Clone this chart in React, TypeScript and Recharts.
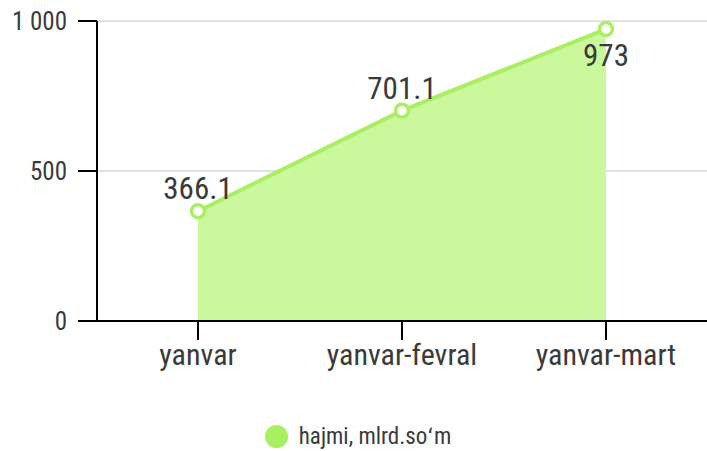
import { AreaChart, Area, XAxis, YAxis, CartesianGrid, Legend, LabelList } from 'recharts';

const categories = ['yanvar', 'yanvar-fevral', 'yanvar-mart'];
const values = [366.1, 701.1, 973];
const yTicks = [0, 500, 1000];
const seriesName = 'hajmi, mlrd.soʻm';

const FONT = '"Roboto Condensed", "Liberation Sans Narrow", "DejaVu Sans Condensed", sans-serif';
const LINE = '#a8f062';
const FILL = '#cbf89d';
const TEXT = '#3a3a3a';

const data = categories.map((name, i) => ({ name, value: values[i] }));

const fmt = (v: number) => String(v).replace(/\B(?=(\d{3})+(?!\d))/g, ' ');

function ValueLabel(props: any) {
    const { x, y, value, index } = props;
    const below = index === values.length - 1;
    return (
        <text
            x={x}
            y={below ? y + 37 : y - 12}
            textAnchor="middle"
            fill={TEXT}
            fontSize={31}
            fontFamily={FONT}
        >
            {value}
        </text>
    );
}

function LegendContent() {
    return (
        <div style={{ height: 40, display: 'flex', justifyContent: 'center', alignItems: 'flex-end', fontFamily: FONT }}>
            <div style={{ display: 'flex', alignItems: 'center', marginLeft: 9, marginBottom: 1 }}>
                <span style={{ width: 23, height: 23, borderRadius: 12, background: LINE, display: 'inline-block', marginRight: 11 }} />
                <span style={{ fontSize: 23, color: TEXT }}>{seriesName}</span>
            </div>
        </div>
    );
}

export default function App() {
    return (
        <div style={{ position: 'absolute', left: 0, top: 0, background: '#fff' }}>
            <AreaChart width={707} height={451} data={data} margin={{ top: 21, right: 0, left: 0, bottom: 0 }}>
                <CartesianGrid vertical={false} stroke="#e2e2e2" strokeWidth={2} />
                <XAxis
                    dataKey="name"
                    padding={{ left: 101, right: 101 }}
                    height={90}
                    tickSize={19}
                    tickMargin={4}
                    stroke="#000"
                    axisLine={{ stroke: '#000', strokeWidth: 2 }}
                    tickLine={{ stroke: '#000', strokeWidth: 2 }}
                    tick={{ fill: TEXT, fontSize: 30, fontFamily: FONT }}
                />
                <YAxis
                    width={97}
                    domain={[0, 1000]}
                    ticks={yTicks}
                    tickFormatter={fmt}
                    tickSize={19}
                    tickMargin={11}
                    axisLine={{ stroke: '#000', strokeWidth: 2 }}
                    tickLine={{ stroke: '#000', strokeWidth: 2 }}
                    tick={{ fill: TEXT, fontSize: 25, fontFamily: FONT }}
                />
                <Legend verticalAlign="bottom" content={<LegendContent />} />
                <Area
                    type="linear"
                    dataKey="value"
                    name={seriesName}
                    stroke={LINE}
                    strokeWidth={4}
                    fill={FILL}
                    fillOpacity={1}
                    dot={{ r: 6.5, fill: '#fff', stroke: LINE, strokeWidth: 3.5 }}
                    isAnimationActive={false}
                >
                    <LabelList dataKey="value" content={<ValueLabel />} />
                </Area>
            </AreaChart>
        </div>
    );
}
